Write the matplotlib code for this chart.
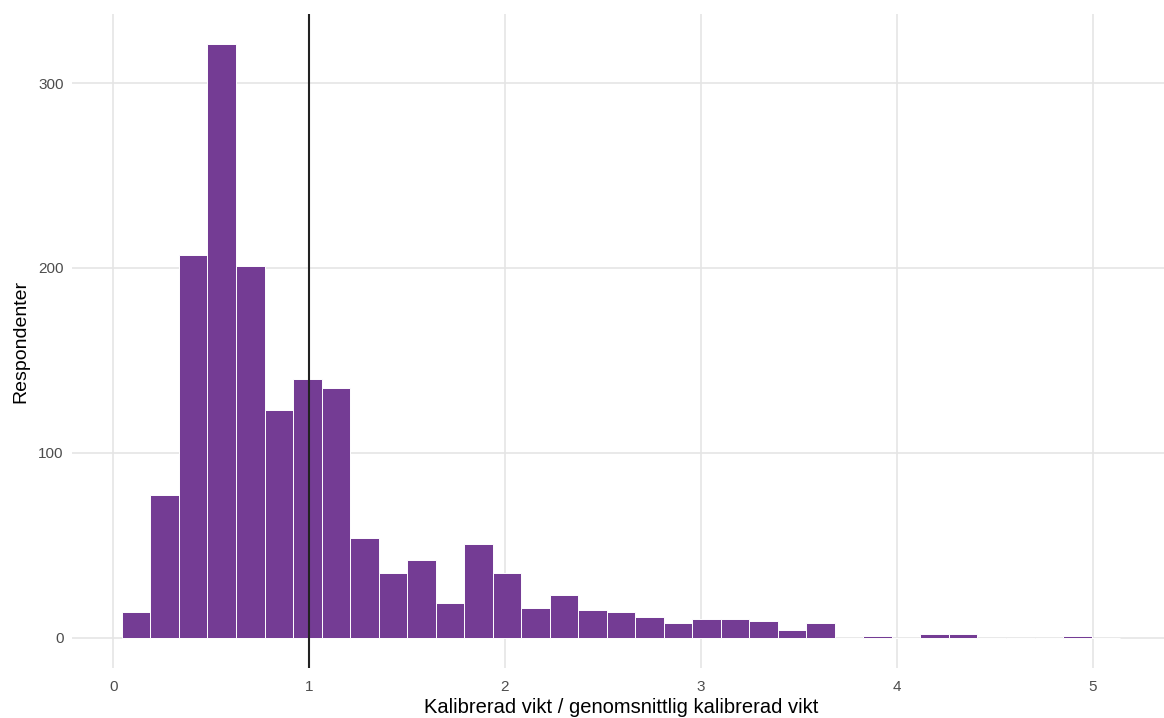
import matplotlib
matplotlib.use("Agg")
import matplotlib.pyplot as plt
import numpy as np

# histogram bins (kalibrerad vikt / medel)
bin_start = 0.0444
bin_width = 0.1456
counts = [14, 77, 207, 321, 201, 123, 140, 135, 54, 35, 42, 19, 51, 35, 16,
          23, 15, 14, 11, 8, 10, 10, 9, 4, 8, 0, 1, 0, 2, 2, 0, 0, 0, 1, 0]
ref_line = 1.0

plt.rcParams['font.family'] = ['Liberation Sans', 'DejaVu Sans']

edges = bin_start + bin_width * np.arange(len(counts) + 1)

fig = plt.figure(figsize=(11.64, 7.18), dpi=100)
# panel runs a little past the right edge of the picture, as in the original
ax = fig.add_axes([72 / 1164, 50.5 / 718, 1098 / 1164, 653 / 718])

ax.bar(edges[:-1], counts, width=bin_width, align='edge',
       color='#743c94', edgecolor='white', linewidth=0.7, zorder=2)
ax.axvline(ref_line, color='#222222', linewidth=1.5, zorder=3)

span = edges[-1] - edges[0]
ax.set_xlim(edges[0] - 0.05 * span, edges[-1] + 0.05 * span)
ymax = max(counts)
ax.set_ylim(-0.05 * ymax, ymax * 1.05)

ax.set_xticks([0, 1, 2, 3, 4, 5])
ax.set_yticks([0, 100, 200, 300])
ax.grid(True, color='#e5e5e5', linewidth=1.2, zorder=0)
ax.set_axisbelow(True)
for s in ax.spines.values():
    s.set_visible(False)
ax.tick_params(length=0, labelsize=11, labelcolor='#4d4d4d', pad=6)
ax.tick_params(axis='x', pad=9)

ax.set_xlabel('Kalibrerad vikt / genomsnittlig kalibrerad vikt', fontsize=14.5, labelpad=3)
ax.set_ylabel('Respondenter', fontsize=14, labelpad=6)

fig.savefig('out.png', dpi=100)
